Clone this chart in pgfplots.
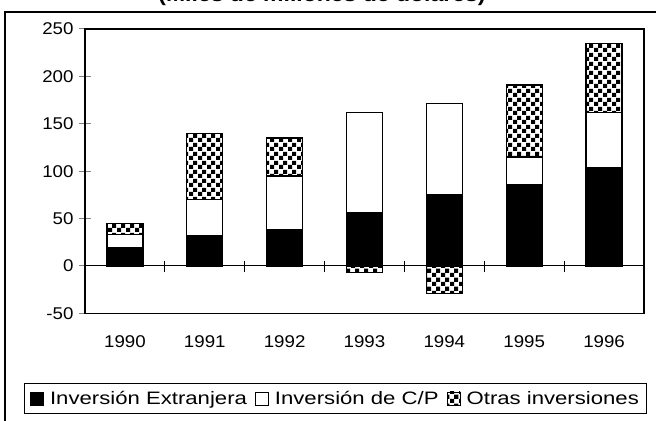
\documentclass[border=0pt]{standalone}
\usepackage{fontspec}
\setmainfont{Liberation Sans}
\newfontfamily\tickfont[FakeStretch=1.1]{Liberation Sans}
\newfontfamily\legfont[FakeStretch=1.23]{Liberation Sans}
\newfontfamily\titlefont[FakeStretch=1.15]{Liberation Sans}
\usepackage{pgfplots}
\pgfplotsset{compat=1.18}
\usetikzlibrary{patterns.meta}
\pgfdeclarepattern{
  name=checker,
  type=uncolored,
  bottom left={\pgfpoint{0bp}{0bp}},
  top right={\pgfpoint{9bp}{9bp}},
  tile size={\pgfpoint{9bp}{9bp}},
  code={
    \pgfpathrectangle{\pgfpoint{0bp}{0bp}}{\pgfpoint{4.5bp}{4.5bp}}
    \pgfpathrectangle{\pgfpoint{4.5bp}{4.5bp}}{\pgfpoint{4.5bp}{4.5bp}}
    \pgfusepath{fill}
  }
}
% x = category index (0 = 1990 ... 6 = 1996)
\pgfplotstableread{
x  ext  cp   otr
0  19   14   12
1  32   38   70
2  38   57   40
3  56   106  0
4  75   96   0
5  86   29   76
6  104  58   73
}\datapos
\pgfplotstableread{
x  otrneg
3  -7
4  -29
}\dataneg
\pgfplotsset{
  common/.style={
    scale only axis,
    width=559bp, height=284.4bp,
    at={(85bp,107.6bp)}, anchor=south west,
    xmin=-0.5, xmax=6.5,
    ymin=-50, ymax=250,
    bar width=36bp,
  },
}
\begin{document}
\begin{tikzpicture}
\useasboundingbox (0,0) rectangle (656bp,421bp);
\draw[line width=1.2bp] (5bp,-10bp) -- (5bp,409bp) -- (680bp,409bp);
\node[anchor=base, font=\titlefont\bfseries\fontsize{20bp}{24bp}\selectfont] at (322bp,419.5bp) {(Miles de millones de dólares)};
\begin{axis}[
  common,
  ybar stacked,
  axis line style={line width=1.2bp},
  xtick={0,...,6},
  xticklabels={1990,1991,1992,1993,1994,1995,1996},
  xtick style={draw=none},
  ytick={-50,0,50,100,150,200,250},
  ytick pos=left,
  tick align=center,
  major tick length=12bp,
  ytick style={line width=1bp},
  /pgf/number format/assume math mode=true,
  ticklabel style={font=\tickfont\fontsize{17bp}{20bp}\selectfont},
  xticklabel style={yshift=-13bp},
  yticklabel style={xshift=-2bp},
  legend columns=3,
  legend style={
    at={(axis description cs:0.4481,-0.2992)}, anchor=center,
    draw=black, line width=1bp, fill=white,
    font=\legfont\fontsize{18bp}{20bp}\selectfont,
    inner xsep=6bp, inner ysep=5.5bp,
    /tikz/column sep=0pt,
    /tikz/every even column/.append style={column sep=6bp},
  },
  legend cell align=left,
  legend image code/.code={\draw[#1, line width=0.8bp] (0bp,-6.5bp) rectangle (13bp,6.5bp); \path (17bp,0bp);},
  every axis plot/.append style={draw=black, line width=1.2bp},
]
\draw[line width=1bp] (axis cs:-0.5,0) -- (axis cs:6.5,0);
\pgfplotsinvokeforeach{0.5,1.5,2.5,3.5,4.5,5.5}{
  \draw[line width=1bp] ([yshift=-6bp]axis cs:#1,0) -- ([yshift=5bp]axis cs:#1,0);
}
\addplot[fill=black] table[x=x, y=ext] {\datapos};
\addplot[fill=white] table[x=x, y=cp] {\datapos};
\addplot[pattern=checker, pattern color=black] table[x=x, y=otr] {\datapos};
\addlegendentry{Inversión Extranjera}
\addlegendentry{Inversión de C/P}
\addlegendentry{Otras inversiones}
\end{axis}
\begin{axis}[
  common,
  ybar, bar shift=0pt,
  hide axis,
]
\addplot[draw=black, line width=1.2bp, pattern=checker, pattern color=black] table[x=x, y=otrneg] {\dataneg};
\end{axis}
\end{tikzpicture}
\end{document}
